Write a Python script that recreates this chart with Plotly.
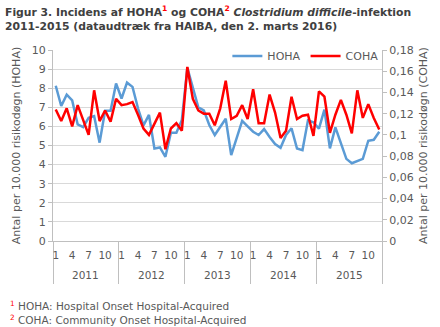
import plotly.graph_objects as go

years = [2011, 2012, 2013, 2014, 2015]
months = list(range(1, 13))
tick_months = [1, 4, 7, 10]

# HOHA: Antal per 10.000 risikodøgn (left axis)
hoha = [8.13, 7.07, 7.66, 7.36, 6.10, 5.96, 6.45, 6.54, 5.15, 6.82, 6.82, 8.25,
        7.46, 8.29, 8.07, 6.95, 6.05, 6.60, 4.84, 4.90, 4.41, 5.67, 5.67, 6.34,
        9.07, 8.10, 7.00, 6.84, 6.07, 5.55, 6.00, 6.40, 4.50, 5.38, 6.29, 6.00,
        5.72, 5.55, 5.86, 5.45, 5.08, 4.88, 5.55, 5.90, 4.84, 4.76, 6.32, 6.22,
        5.88, 6.88, 4.85, 5.95, 5.11, 4.30, 4.07, 4.19, 4.30, 5.25, 5.30, 5.72]

# COHA: Antal per 10.000 risikodøgn (right axis)
coha = [0.124, 0.113, 0.125, 0.108, 0.128, 0.114, 0.100, 0.142, 0.113, 0.123, 0.1125, 0.134,
        0.128, 0.129, 0.131, 0.119, 0.106, 0.100, 0.110, 0.121, 0.0865, 0.106, 0.111, 0.104,
        0.164, 0.134, 0.123, 0.120, 0.120, 0.109, 0.125, 0.151, 0.115, 0.118, 0.128, 0.115,
        0.143, 0.111, 0.111, 0.138, 0.121, 0.097, 0.104, 0.136, 0.115, 0.118, 0.119, 0.099,
        0.141, 0.136, 0.102, 0.119, 0.133, 0.119, 0.1015, 0.142, 0.116, 0.129, 0.116, 0.105]

labels = [(y, m) for y in years for m in months]
idx = list(range(len(labels)))
tickvals = [i for i, (y, m) in enumerate(labels) if m in tick_months]
ticktext = [str(labels[i][1]) for i in tickvals]
year_bounds = [i - 0.5 for i, (y, m) in enumerate(labels) if m == 1] + [len(labels) - 0.5]
year_centers = [sum(i for i, (y, m) in enumerate(labels) if y == yr) / 12 for yr in years]

FONT = "DejaVu Sans"
GRAY = "#595959"
GRID = "#d9d9d9"
AXIS = "#bfbfbf"

fig = go.Figure()
fig.add_trace(go.Scatter(x=idx, y=hoha, mode="lines", name="HOHA",
                         line=dict(color="#5b9bd5", width=2.5)))
fig.add_trace(go.Scatter(x=idx, y=coha, mode="lines", name="COHA", yaxis="y2",
                         line=dict(color="#ff0000", width=2.5)))

for yr, c in zip(years, year_centers):
    fig.add_annotation(x=c, xref="x", y=0, yref="paper", yshift=-34, yanchor="middle",
                       text=str(yr), showarrow=False, font=dict(family=FONT, size=10.5, color=GRAY))

# title
fig.add_annotation(x=0, xref="paper", y=1, yref="paper", xanchor="left", yanchor="top",
                   xshift=-50, yshift=48, align="left", showarrow=False,
                   text="Figur 3. Incidens af HOHA<span style='color:#ff0000'><sup>1</sup></span> og COHA"
                        "<span style='color:#ff0000'><sup>2</sup></span> <i>Clostridium difficile</i>-infektion<br>"
                        "2011-2015 (dataudtræk fra HAIBA, den 2. marts 2016)",
                   font=dict(family=FONT, size=10.8, color="#404040", weight="bold"))

# footnotes
fig.add_annotation(x=0, xref="paper", y=0, yref="paper", xanchor="left", yanchor="top",
                   xshift=-45, yshift=-56, align="left", showarrow=False,
                   text="<span style='color:#ff0000'><sup>1</sup></span> HOHA: Hospital Onset Hospital-Acquired<br>"
                        "<span style='color:#ff0000'><sup>2</sup></span> COHA: Community Onset Hospital-Acquired",
                   font=dict(family=FONT, size=10.5, color=GRAY))

fig.update_layout(
    width=440, height=327,
    margin=dict(l=52.5, r=57.5, t=50, b=86),
    paper_bgcolor="white", plot_bgcolor="white",
    separators=",.",
    showlegend=True,
    legend=dict(orientation="h", x=0.53, xanchor="left", y=1.045, yanchor="top",
                font=dict(family=FONT, size=11, color=GRAY), bgcolor="rgba(0,0,0,0)",
                itemwidth=30, tracegroupgap=0),
    xaxis=dict(range=[-0.5, len(labels) - 0.5], tickmode="array", tickvals=tickvals, ticktext=ticktext,
               showgrid=False, zeroline=False, showline=True, linecolor=AXIS, ticks="",
               ticklabelstandoff=4,
               tickfont=dict(family=FONT, size=10.5, color=GRAY),
               minor=dict(tickmode="array", tickvals=year_bounds, ticks="outside", ticklen=42,
                          tickcolor=AXIS, tickwidth=1, showgrid=False)),
    yaxis=dict(range=[0, 10], dtick=1, showgrid=True, gridcolor=GRID, zeroline=False,
               showline=True, linecolor=AXIS, ticks="outside", ticklen=4, tickcolor=AXIS,
               tickfont=dict(family=FONT, size=11, color=GRAY),
               title=dict(text="Antal per 10.000 risikodøgn (HOHA)", standoff=8,
                          font=dict(family=FONT, size=11, color=GRAY))),
    yaxis2=dict(range=[0, 0.18], dtick=0.02, overlaying="y", side="right", showgrid=False,
                zeroline=False, showline=True, linecolor=AXIS, ticks="outside", ticklen=4,
                tickcolor=AXIS, tickfont=dict(family=FONT, size=11, color=GRAY),
                title=dict(text="Antal per 10.000 risikodøgn (COHA)", standoff=6,
                           font=dict(family=FONT, size=11, color=GRAY))),
)

fig.write_html("out.html")
